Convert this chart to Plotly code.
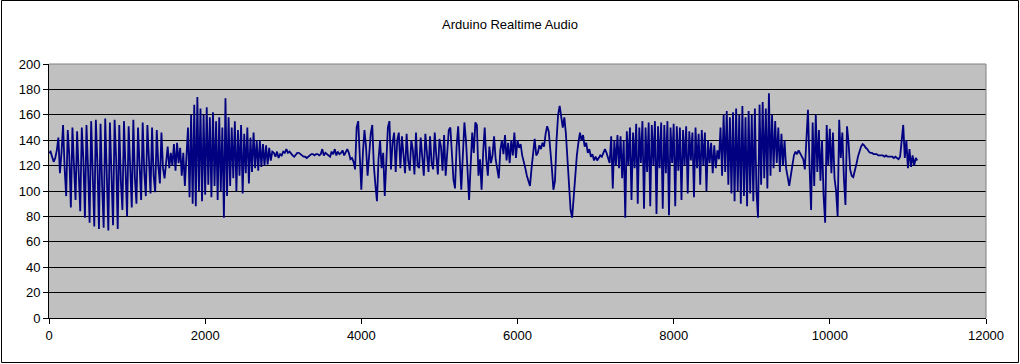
import plotly.graph_objects as go

# Sample spacing of the recorded series (sample index units)
SAMPLE_STEP = 20

# Waveform values, segment by segment (one value per 20 samples)
seg_start = [130, 131, 127, 123, 126, 132]
seg_voice1 = [142, 114, 130, 152, 118,
              96, 148, 128, 87, 150, 120, 93, 147, 115, 84, 150, 125,
              79, 152, 118, 75, 155, 110, 72, 156, 122, 70, 153, 105,
              71, 157, 118, 69, 154, 112, 73, 156, 125, 70, 152, 108,
              85, 155, 118, 80, 151, 122, 87, 156, 110, 90, 150, 120,
              93, 154, 115, 96, 152, 125, 98, 150, 112, 99, 148, 120,
              106, 146, 118, 110]
seg_soft1 = [124, 135, 118, 130, 120, 137, 116, 138, 122, 134, 112, 130, 104, 128]
seg_burst1 = [150, 95, 160, 90, 168,
              88, 174, 100, 165, 92,
              160, 97, 166, 105, 158,
              95, 162, 104, 155, 93,
              158, 100, 150, 79, 173,
              96, 158, 104, 150, 110,
              155, 100, 148, 112, 152,
              98, 145, 114, 150, 106,
              142, 115, 146, 118, 140,
              116, 140, 119, 137, 120,
              136, 121, 134, 124, 131]
seg_quiet1 = [130, 127, 131, 126, 129, 128, 131, 130, 133, 130,
              131, 129, 128, 127, 129, 130, 130, 129, 128, 127,
              127, 126, 127, 128, 129, 129, 128, 129, 129, 128,
              129, 133, 128, 130, 129, 128, 127, 131, 129, 133,
              128, 131, 129, 130, 132, 128, 131, 133, 130, 125]
seg_voice2 = [126, 123, 117, 150, 155, 125, 101, 130, 148, 135,
              112, 128, 145, 152, 120, 105, 92, 125, 140, 118,
              130, 96, 125, 150, 155, 117, 138, 146, 115, 140, 146,
              118, 143, 128, 114, 145, 124, 116, 140, 132, 113,
              146, 120, 118, 142, 127, 112, 145, 130, 115, 143,
              122, 117, 146, 128, 113, 141, 135, 116, 144, 112,
              130, 148, 150, 125, 109, 102, 135, 151, 130, 101,
              128, 154, 140, 110, 93, 120, 146, 130, 154, 152,
              112, 125, 101, 130, 150, 125, 112, 135, 122, 128,
              143, 125, 118, 110, 132, 140, 129, 144, 124, 138,
              122, 140, 128, 146, 126]
seg_glide = [140, 134, 137, 128, 124, 118, 112, 108, 104, 118,
             132, 141, 128, 130, 136, 133, 138, 135, 145, 151,
             147, 135, 118, 101, 108, 140, 160, 167, 160, 150,
             158, 145, 125, 102, 85, 79, 96, 118, 128, 138,
             146, 140, 144, 135, 138, 130, 133, 127, 129, 124,
             127, 124, 126, 128, 127, 131, 133, 130, 126, 122]
seg_voice3 = [143, 102, 140, 120, 144, 118, 143, 110, 140, 79,
              147, 120, 150, 93, 146, 118, 153, 90, 150, 122,
              155, 86, 150, 115, 154, 88, 152, 120, 155, 82,
              151, 118, 154, 86, 152, 114, 155, 81, 150, 122,
              153, 88, 151, 116, 150, 93, 148, 120, 151, 98,
              147, 124, 146, 95, 150, 118, 145, 105, 148, 120,
              146, 100, 140, 122, 138, 114, 136, 118, 132, 125]
seg_burst2 = [150, 112, 160, 115, 163, 105, 158, 98, 162, 92,
              165, 100, 160, 90, 167, 96, 158, 88, 163, 98,
              160, 92, 165, 100, 79, 168, 105, 170, 110, 165,
              102, 177, 112, 160, 118, 155, 122, 150, 115, 145,
              120, 140, 118, 110, 104]
seg_voice4 = [112, 122, 128, 131, 129, 132, 130, 128, 125, 117,
              140, 164, 120, 85, 154, 104, 160, 115, 148, 108,
              140, 96, 75, 152, 120, 149, 114, 146, 110, 100,
              80, 156, 126, 146, 110, 89, 151, 138, 117, 112,
              111, 115, 121, 127, 132]
seg_tail = [135, 137, 136, 134, 133, 131, 130, 130, 129, 129,
            129, 128, 128, 128, 128, 127, 128, 127, 127, 127,
            127, 126, 127, 126, 125, 127, 138, 152, 126, 140,
            118, 133, 119, 128, 120, 126, 124]

segments = [seg_start, seg_voice1, seg_soft1, seg_burst1, seg_quiet1,
            seg_voice2, seg_glide, seg_voice3, seg_burst2, seg_voice4, seg_tail]
values = [v for seg in segments for v in seg]
sample_index = [i * SAMPLE_STEP for i in range(len(values))]

x_ticks = [0, 2000, 4000, 6000, 8000, 10000, 12000]
y_ticks = [0, 20, 40, 60, 80, 100, 120, 140, 160, 180, 200]

W, H = 1020, 364
L, R, T, B = 49, 34, 64, 46
pw, ph = W - L - R, H - T - B

fig = go.Figure()
fig.add_trace(go.Scatter(x=sample_index, y=values, mode="lines",
                         line=dict(color="#000080", width=1.8),
                         hoverinfo="skip", showlegend=False))

axis_font = dict(family="Liberation Sans, Arial, sans-serif", size=13, color="black")
fig.update_layout(
    width=W, height=H,
    margin=dict(l=L, r=R, t=T, b=B),
    paper_bgcolor="white",
    plot_bgcolor="#C0C0C0",
    title=dict(text="Arduino Realtime Audio", x=0.5, xanchor="center",
               y=1 - 24 / H, yanchor="middle", yref="container",
               font=dict(family="Liberation Sans, Arial, sans-serif", size=13, color="black")),
    xaxis=dict(range=[0, 12000], tickvals=x_ticks, ticktext=[str(v) for v in x_ticks],
               showgrid=False, zeroline=False, showline=True, linecolor="black",
               linewidth=1, ticks="outside", ticklen=5, tickcolor="black",
               tickfont=axis_font),
    yaxis=dict(range=[0, 200], tickvals=y_ticks, ticktext=[str(v) for v in y_ticks],
               showgrid=True, gridcolor="black", gridwidth=1, zeroline=False,
               showline=True, linecolor="black", linewidth=1, ticks="outside",
               ticklen=5, tickcolor="black", tickfont=axis_font),
    shapes=[
        # plot-area grey frame (top and right)
        dict(type="line", xref="paper", yref="paper", x0=0, x1=1, y0=1, y1=1,
             line=dict(color="#808080", width=1)),
        dict(type="line", xref="paper", yref="paper", x0=1, x1=1, y0=0, y1=1,
             line=dict(color="#808080", width=1)),
        # outer chart border
        dict(type="rect", xref="paper", yref="paper",
             x0=(1.5 - L) / pw, x1=(1018.5 - L) / pw,
             y0=-(362.5 - (T + ph)) / ph, y1=(T + ph - 0.5) / ph,
             line=dict(color="black", width=1), fillcolor="rgba(0,0,0,0)"),
    ],
)

fig.write_html("out.html")
